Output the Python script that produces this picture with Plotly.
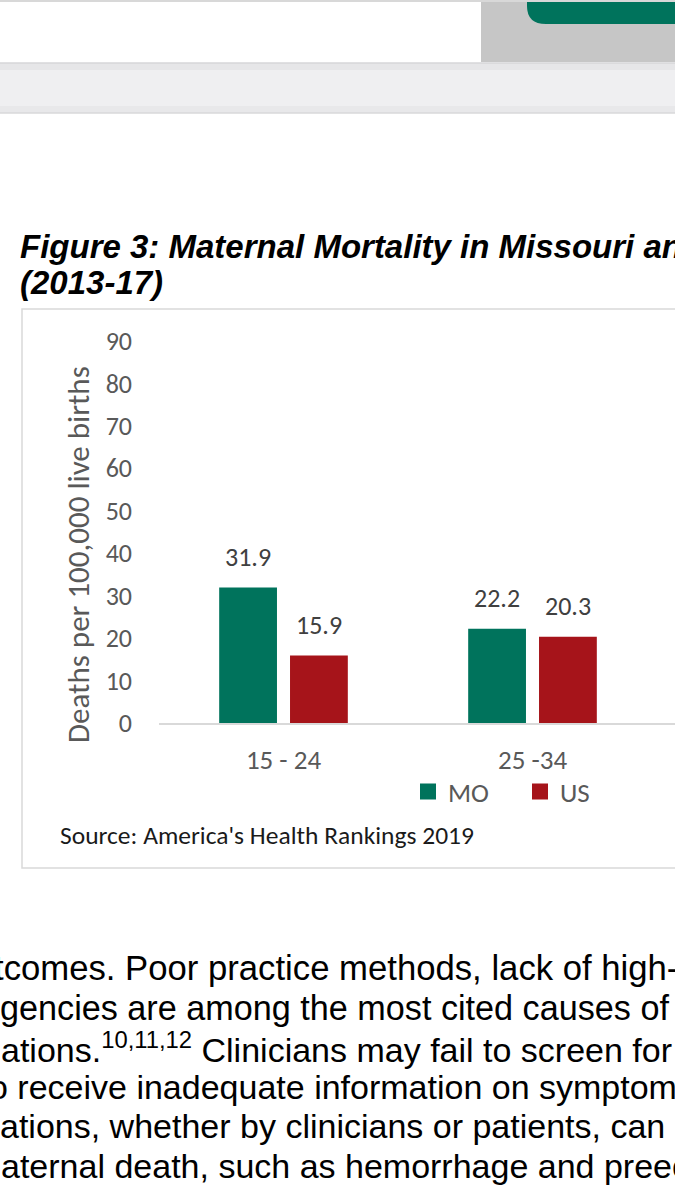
import plotly.graph_objects as go

# ---------------- data ----------------
categories = ["15 - 24", "25 -34"]
series_names = ["MO", "US"]
mo_values = [31.9, 22.2]
us_values = [15.9, 20.3]
y_tick_values = [0, 10, 20, 30, 40, 50, 60, 70, 80, 90]

title_line1 = "Figure 3: Maternal Mortality in Missouri and the U.S. by Age"
title_line2 = "(2013-17)"
y_title = "Deaths per 100,000 live births"
source_text = "Source: America's Health Rankings 2019"
body_lines = [
    "tcomes. Poor practice methods, lack of high-quality",
    "gencies are among the most cited causes of",
    "ations.<sup>10,11,12</sup> Clinicians may fail to screen for",
    "o receive inadequate information on symptoms",
    "ations, whether by clinicians or patients, can",
    "aternal death, such as hemorrhage and preeclampsia",
]

# ---------------- layout constants ----------------
W, H = 675, 1200
def X(px):
    return px / W
def Y(py):
    return 1 - py / H

GREEN = "#00735C"
RED = "#A6141A"
CHART_FONT = "Carlito, Lato, sans-serif"
DOC_FONT = "Liberation Sans, Arial, sans-serif"

PLOT_L, AXIS_Y, TOP_Y = 159, 723, 341
CAT_W = 249
BARGAP = 0.431
BARGROUPGAP = 0.184

fig = go.Figure()
fig.add_trace(go.Bar(x=categories, y=mo_values, name=series_names[0],
                     marker=dict(color=GREEN, line=dict(width=0)), showlegend=False))
fig.add_trace(go.Bar(x=categories, y=us_values, name=series_names[1],
                     marker=dict(color=RED, line=dict(width=0)), showlegend=False))

# legend proxies (square swatches)
fig.add_trace(go.Scatter(x=[None], y=[None], mode="markers", name=series_names[0],
                         marker=dict(symbol="square", size=16, color=GREEN), legend="legend"))
fig.add_trace(go.Scatter(x=[None], y=[None], mode="markers", name=series_names[1],
                         marker=dict(symbol="square", size=16, color=RED), legend="legend2"))

annotations = []
# data labels
half_slot = (1 - BARGAP) / 4
for vals, sign in ((mo_values, -1), (us_values, 1)):
    for i, v in enumerate(vals):
        annotations.append(dict(x=i + sign * half_slot, y=v, xref="x", yref="y",
                                text=f"{v:.1f}", showarrow=False,
                                xanchor="center", yanchor="bottom", yshift=13,
                                font=dict(family=CHART_FONT, size=26, color="#404040")))

# y axis title
annotations.append(dict(x=X(78), y=Y(555), xref="paper", yref="paper", text=y_title,
                        textangle=-90, showarrow=False, xanchor="center", yanchor="middle",
                        font=dict(family=CHART_FONT, size=31, color="#595959")))
# source
annotations.append(dict(x=X(58), y=Y(835), xref="paper", yref="paper", text=source_text,
                        xanchor="left", yanchor="middle", showarrow=False,
                        font=dict(family=CHART_FONT, size=25.5, color="#1a1a1a")))
# figure title
annotations.append(dict(x=X(18), y=Y(247), xref="paper", yref="paper",
                        text=f"<b><i>{title_line1}</i></b>", xanchor="left", yanchor="middle",
                        showarrow=False,
                        font=dict(family=DOC_FONT, size=33, color="#000000")))
annotations.append(dict(x=X(18), y=Y(282), xref="paper", yref="paper",
                        text=f"<b><i>{title_line2}</i></b>", xanchor="left", yanchor="middle",
                        showarrow=False,
                        font=dict(family=DOC_FONT, size=33, color="#000000")))
# body text (justified in the source document, so line widths differ slightly)
body_x = [-8, -2, -1, -13, -2, -1]
body_y = [968, 1008, 1047, 1087, 1126, 1166]
body_size = [34.7, 34.2, 34, 34, 34, 34]
for t, bx, by, bs in zip(body_lines, body_x, body_y, body_size):
    annotations.append(dict(x=X(bx), y=Y(by), xref="paper", yref="paper", text=t,
                            xanchor="left", yanchor="middle", showarrow=False,
                            font=dict(family=DOC_FONT, size=bs, color="#000000")))

shapes = [
    # top toolbar area
    dict(type="rect", xref="paper", yref="paper", x0=X(481), x1=X(680), y0=Y(0), y1=Y(62),
         fillcolor="#C6C6C6", line=dict(width=0), layer="below"),
    dict(type="path", xref="paper", yref="paper",
         path=f"M {X(527)},{Y(-2)} L {X(680)},{Y(-2)} L {X(680)},{Y(24)} L {X(546)},{Y(24)} "
              f"Q {X(527)},{Y(24)} {X(527)},{Y(6)} Z",
         fillcolor=GREEN, line=dict(width=0), layer="below"),
    dict(type="line", xref="paper", yref="paper", x0=0, x1=X(680), y0=Y(1), y1=Y(1),
         line=dict(color="#d8d8d8", width=2), layer="below"),
    # light band
    dict(type="rect", xref="paper", yref="paper", x0=X(-5), x1=X(680), y0=Y(63), y1=Y(113),
         fillcolor="#EFEFF1", line=dict(width=0), layer="below"),
    dict(type="rect", xref="paper", yref="paper", x0=X(-5), x1=X(680), y0=Y(63), y1=Y(70),
         fillcolor="#E6E6E8", line=dict(width=0), layer="below"),
    dict(type="rect", xref="paper", yref="paper", x0=X(-5), x1=X(680), y0=Y(106), y1=Y(113),
         fillcolor="#E8E8EA", line=dict(width=0), layer="below"),
    dict(type="line", xref="paper", yref="paper", x0=X(-5), x1=X(680), y0=Y(63), y1=Y(63),
         line=dict(color="#d6d6d8", width=1.5), layer="below"),
    dict(type="line", xref="paper", yref="paper", x0=X(-5), x1=X(680), y0=Y(113), y1=Y(113),
         line=dict(color="#d8d8da", width=1.5), layer="below"),
    # chart frame
    dict(type="rect", xref="paper", yref="paper", x0=X(22), x1=X(700), y0=Y(309), y1=Y(868),
         fillcolor="rgba(0,0,0,0)", line=dict(color="#D9D9D9", width=1.5), layer="below"),
]

fig.update_layout(
    width=W, height=H,
    margin=dict(l=0, r=0, t=0, b=0, autoexpand=False),
    paper_bgcolor="white", plot_bgcolor="white",
    barmode="group", bargap=BARGAP, bargroupgap=BARGROUPGAP,
    xaxis=dict(domain=[X(PLOT_L), 1], range=[-0.5, -0.5 + (W - PLOT_L) / CAT_W],
               type="category", showgrid=False, zeroline=False,
               showline=True, linecolor="#D9D9D9", linewidth=2,
               ticks="", ticklabelstandoff=12, automargin=False,
               tickfont=dict(family=CHART_FONT, size=27, color="#595959")),
    yaxis=dict(domain=[Y(AXIS_Y), Y(TOP_Y)], range=[0, 90], tickvals=y_tick_values,
               showgrid=False, zeroline=False, showline=False, ticks="",
               ticklabelstandoff=26, automargin=False,
               tickfont=dict(family=CHART_FONT, size=26, color="#595959")),
    legend=dict(orientation="h", x=X(428 - 20), y=Y(792), xanchor="left", yanchor="middle",
                font=dict(family=CHART_FONT, size=27, color="#595959"), bgcolor="rgba(0,0,0,0)"),
    legend2=dict(orientation="h", x=X(540 - 20), y=Y(792), xanchor="left", yanchor="middle",
                 font=dict(family=CHART_FONT, size=27, color="#595959"), bgcolor="rgba(0,0,0,0)"),
    annotations=annotations,
    shapes=shapes,
)

fig.write_html("out.html", config={"displayModeBar": False},
               post_script="document.body.style.margin='0';document.body.style.overflow='hidden';")
